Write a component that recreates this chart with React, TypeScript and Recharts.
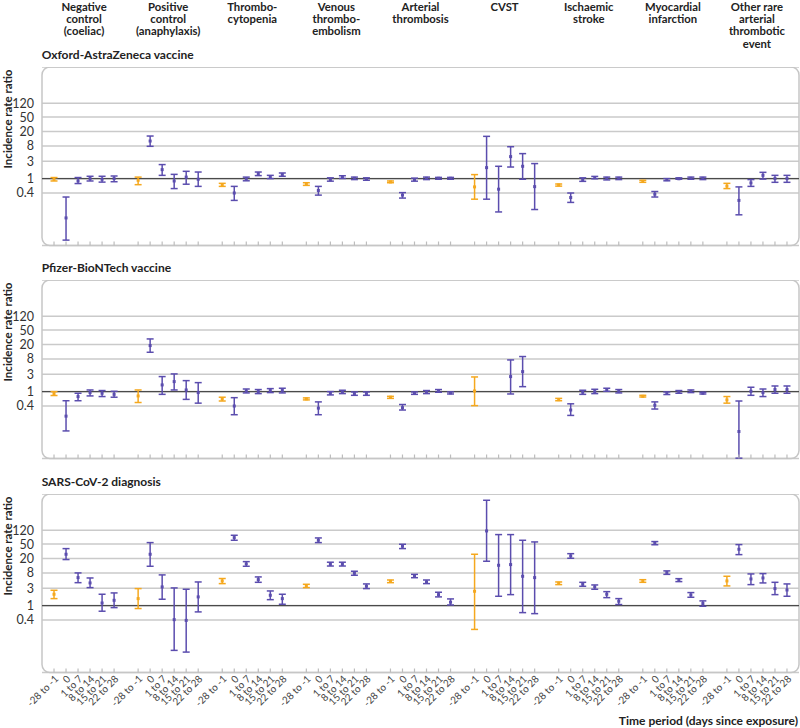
import React from 'react';
import {
  ComposedChart,
  Scatter,
  ErrorBar,
  XAxis,
  YAxis,
  CartesianGrid,
  ReferenceLine,
  ReferenceArea,
} from 'recharts';

// column headers, one entry per outcome (lines as printed)
const outcomes = [
  ['Negative', 'control', '(coeliac)'],
  ['Positive', 'control', '(anaphylaxis)'],
  ['Thrombo-', 'cytopenia'],
  ['Venous', 'thrombo-', 'embolism'],
  ['Arterial', 'thrombosis'],
  ['CVST'],
  ['Ischaemic', 'stroke'],
  ['Myocardial', 'infarction'],
  ['Other rare', 'arterial', 'thrombotic', 'event'],
];

const periods = ['-28 to -1', '0', '1 to 7', '8 to 14', '15 to 21', '22 to 28'];
const yTicks = [0.4, 1, 3, 8, 20, 50, 120];
const panelTitles = ['Oxford-AstraZeneca vaccine', 'Pfizer-BioNTech vaccine', 'SARS-CoV-2 diagnosis'];

// Oxford-AstraZeneca: estimate / lower / upper, rows = outcomes, cols = periods
const azEst = [
  [0.96, 0.082, 0.86, 1.0, 0.96, 1.0],
  [0.9, 10.9, 1.77, 0.86, 1.1, 0.96],
  [0.68, 0.4, 1.0, 1.37, 1.1, 1.29],
  [0.71, 0.47, 0.94, 1.1, 1.02, 0.97],
  [0.81, 0.35, 0.94, 1.02, 1.02, 1.02],
  [0.59, 2.01, 0.51, 4.05, 2.19, 0.6],
  [0.67, 0.3, 0.94, 1.07, 1.02, 1.02],
  [0.84, 0.37, 0.94, 0.99, 1.02, 1.02],
  [0.62, 0.25, 0.76, 1.23, 1.0, 1.0],
];
const azLo = [
  [0.86, 0.02, 0.73, 0.86, 0.8, 0.82],
  [0.68, 7.8, 1.23, 0.53, 0.7, 0.61],
  [0.61, 0.25, 0.87, 1.21, 1.0, 1.16],
  [0.65, 0.35, 0.85, 1.01, 0.94, 0.9],
  [0.77, 0.29, 0.85, 0.94, 0.96, 0.96],
  [0.27, 0.27, 0.12, 2.09, 0.96, 0.14],
  [0.62, 0.22, 0.84, 0.99, 0.92, 0.94],
  [0.79, 0.31, 0.87, 0.96, 0.96, 0.94],
  [0.53, 0.1, 0.61, 0.97, 0.79, 0.79],
];
const azHi = [
  [1.07, 0.31, 1.07, 1.16, 1.16, 1.18],
  [1.1, 15, 2.44, 1.31, 1.59, 1.52],
  [0.74, 0.61, 1.1, 1.52, 1.23, 1.43],
  [0.77, 0.61, 1.05, 1.2, 1.1, 1.05],
  [0.86, 0.41, 1.03, 1.1, 1.08, 1.08],
  [1.29, 14.7, 2.19, 7.6, 4.9, 2.6],
  [0.71, 0.4, 1.05, 1.15, 1.1, 1.1],
  [0.9, 0.44, 1.0, 1.05, 1.1, 1.1],
  [0.74, 0.59, 0.94, 1.49, 1.23, 1.23],
];

// Pfizer-BioNTech
const pfEst = [
  [0.88, 0.21, 0.73, 0.94, 0.9, 0.84],
  [0.76, 18.7, 1.53, 1.89, 1.11, 0.94],
  [0.63, 0.4, 1.04, 1.0, 1.07, 1.07],
  [0.63, 0.35, 0.9, 0.98, 0.88, 0.88],
  [0.7, 0.36, 0.9, 0.96, 1.04, 0.92],
  [1.04, null, null, 2.6, 3.57, null],
  [0.6, 0.31, 0.96, 1.0, 1.11, 1.02],
  [0.74, 0.42, 0.9, 0.98, 1.02, 0.9],
  [0.59, 0.079, 1.02, 0.94, 1.14, 1.14],
];
const pfLo = [
  [0.78, 0.082, 0.56, 0.76, 0.73, 0.7],
  [0.5, 12.2, 0.84, 1.11, 0.61, 0.48],
  [0.55, 0.23, 0.92, 0.88, 0.94, 0.92],
  [0.59, 0.23, 0.81, 0.88, 0.79, 0.79],
  [0.65, 0.31, 0.84, 0.88, 0.96, 0.86],
  [0.41, null, null, 0.86, 1.37, null],
  [0.56, 0.22, 0.84, 0.88, 1.02, 0.92],
  [0.71, 0.33, 0.83, 0.9, 0.94, 0.86],
  [0.48, 0.0145, 0.79, 0.73, 0.9, 0.9],
];
const pfHi = [
  [1.0, 0.56, 0.9, 1.11, 1.07, 1.02],
  [1.11, 28.5, 2.6, 3.08, 2.01, 1.77],
  [0.7, 0.68, 1.18, 1.14, 1.21, 1.24],
  [0.67, 0.52, 1.0, 1.09, 0.98, 0.98],
  [0.74, 0.44, 0.98, 1.07, 1.14, 0.98],
  [2.54, null, null, 7.5, 9.3, null],
  [0.65, 0.46, 1.09, 1.16, 1.24, 1.14],
  [0.79, 0.52, 0.98, 1.07, 1.11, 0.96],
  [0.73, 0.55, 1.32, 1.18, 1.43, 1.43],
];

// SARS-CoV-2 diagnosis
const covEst = [
  [2.06, 26.2, 5.94, 4.23, 1.18, 1.4],
  [1.56, 26.2, 3.28, 0.41, 0.39, 1.74],
  [4.8, 75.5, 14.2, 5.23, 1.93, 1.56],
  [3.5, 63.8, 13.8, 13.8, 7.8, 3.42],
  [4.7, 43.6, 6.6, 4.5, 2.01, 1.24],
  [2.49, 115.5, 13.0, 13.6, 6.46, 5.94],
  [4.14, 23.6, 3.88, 3.28, 2.06, 1.32],
  [4.8, 53.8, 8.16, 5.0, 1.97, 1.14],
  [4.8, 36, 5.45, 5.8, 2.95, 2.7],
];
const covLo = [
  [1.56, 18.7, 4.3, 3.14, 0.7, 0.88],
  [0.83, 12.2, 1.5, 0.058, 0.052, 0.67],
  [4.05, 63.8, 12.2, 4.4, 1.46, 1.09],
  [3.14, 55, 12.4, 12.4, 6.9, 2.95],
  [4.3, 37.6, 5.9, 4.05, 1.74, 1.04],
  [0.22, 16.8, 1.81, 2.01, 0.64, 0.6],
  [3.8, 20.3, 3.42, 2.83, 1.66, 1.07],
  [4.4, 48, 7.3, 4.6, 1.7, 0.96],
  [3.5, 25.6, 3.8, 4.23, 2.01, 1.81],
];
const covHi = [
  [2.65, 37.5, 8.0, 5.8, 2.06, 2.24],
  [2.95, 55, 7.05, 3.08, 2.83, 4.5],
  [5.6, 87.7, 16.4, 6.2, 2.54, 2.06],
  [3.88, 74, 15.8, 15.8, 8.9, 3.97],
  [5.1, 49.5, 7.3, 5.1, 2.34, 1.53],
  [26.2, 812, 91.5, 91.5, 63.8, 57.4],
  [4.5, 27.2, 4.4, 3.72, 2.43, 1.56],
  [5.2, 58.7, 9.1, 5.55, 2.29, 1.35],
  [6.46, 48.4, 7.5, 7.65, 4.4, 3.97],
];

const ORANGE = '#F5A81E';
const PURPLE = '#5B4DAE';
const FONT = 'Lato, "Open Sans", sans-serif';

const SLOTS = 7; // 6 periods + 1 empty slot between outcomes
const X_TICKS = outcomes.flatMap((_, g) => periods.map((__, i) => g * SLOTS + i));
const Y_DOMAIN: [number, number] = [0.0142, 1210];

const PLOT_H = 178.5;
const PANEL_TOPS = [66.7, 280.2, 493.7];

type Row = { x: number; y: number; err: [number, number] };

function buildRows(est: any[][], lo: any[][], hi: any[][], baseline: boolean): Row[] {
  const rows: Row[] = [];
  est.forEach((grp, g) =>
    grp.forEach((v, i) => {
      if (v == null) return;
      if ((i === 0) !== baseline) return;
      rows.push({ x: g * SLOTS + i, y: v, err: [v - lo[g][i], hi[g][i] - v] });
    })
  );
  return rows;
}

const PeriodTick = (props: any) => {
  const { x, y, payload, showLabel } = props;
  const label = periods[payload.value % SLOTS];
  return (
    <g>
      <line x1={x} x2={x} y1={y} y2={y - 4} stroke="#bdbdbd" strokeWidth={1.2} />
      {showLabel && (
        <text
          x={x}
          y={y + 2}
          dy="0.71em"
          textAnchor="end"
          transform={`rotate(-45, ${x}, ${y + 2})`}
          fontSize={10}
          fontFamily={FONT}
          fill="#444"
        >
          {label}
        </text>
      )}
    </g>
  );
};

const Dot = (color: string) => (p: any) => (
  <rect x={p.cx - 1.5} y={p.cy - 1.5} width={3} height={3} fill={color} />
);

const Panel = ({ rowsBase, rowsExp, showLabels }: { rowsBase: Row[]; rowsExp: Row[]; showLabels: boolean }) => {
  const axisH = showLabels ? 60 : 6;
  return (
    <ComposedChart width={800} height={PLOT_H + axisH} margin={{ top: 0, right: 1, bottom: 0, left: 0 }}>
      <CartesianGrid horizontal vertical={false} stroke="#cacaca" strokeWidth={1.5} />
      <ReferenceArea
        x1={-1}
        x2={62}
        y1={Y_DOMAIN[0]}
        y2={Y_DOMAIN[1]}
        fill="none"
        stroke="#c6c6c6"
        strokeWidth={1.5}
        radius={8}
        ifOverflow="visible"
      />
      <XAxis
        dataKey="x"
        type="number"
        domain={[-1, 62]}
        ticks={X_TICKS}
        interval={0}
        allowDataOverflow
        axisLine={false}
        tickLine={false}
        tickSize={0}
        tickMargin={0}
        height={axisH}
        tick={<PeriodTick showLabel={showLabels} />}
      />
      <YAxis
        dataKey="y"
        type="number"
        scale="log"
        domain={Y_DOMAIN}
        allowDataOverflow
        ticks={yTicks}
        interval={0}
        width={42}
        axisLine={false}
        tickLine={false}
        tick={{ fontSize: 12.5, fill: '#333', fontFamily: FONT }}
        tickFormatter={(v: number) => String(v)}
      />
      <ReferenceLine y={1} stroke="#4a4a4a" strokeWidth={1.4} />
      <Scatter data={rowsBase} fill={ORANGE} shape={Dot(ORANGE)} isAnimationActive={false}>
        <ErrorBar dataKey="err" direction="y" width={3.5} stroke={ORANGE} strokeWidth={1.5} isAnimationActive={false} />
      </Scatter>
      <Scatter data={rowsExp} fill={PURPLE} shape={Dot(PURPLE)} isAnimationActive={false}>
        <ErrorBar dataKey="err" direction="y" width={3.5} stroke={PURPLE} strokeWidth={1.5} isAnimationActive={false} />
      </Scatter>
    </ComposedChart>
  );
};

const panels = [
  { est: azEst, lo: azLo, hi: azHi },
  { est: pfEst, lo: pfLo, hi: pfHi },
  { est: covEst, lo: covLo, hi: covHi },
];

const boldText: React.CSSProperties = {
  position: 'absolute',
  fontFamily: FONT,
  fontWeight: 700,
  fontSize: 12,
  color: '#222',
  whiteSpace: 'nowrap',
};

export default function App() {
  const slotW = 757 / 63;
  return (
    <div style={{ position: 'absolute', left: 0, top: 0, width: 800, height: 728, background: '#fff', overflow: 'hidden' }}>
      {outcomes.map((lines, g) => {
        const cx = 42 + (g * SLOTS + 3.5) * slotW;
        return (
          <div
            key={g}
            style={{ ...boldText, fontSize: 11.3, left: cx - 60, width: 120, top: 0.5, textAlign: 'center', lineHeight: '12.4px' }}
          >
            {lines.map((l, i) => (
              <div key={i}>{l}</div>
            ))}
          </div>
        );
      })}
      {panels.map((p, k) => {
        const top = PANEL_TOPS[k];
        const y1 = top + 111.6;
        return (
          <React.Fragment key={k}>
            <div style={{ ...boldText, left: 41.7, top: top - 19, lineHeight: '14px' }}>{panelTitles[k]}</div>
            <div
              style={{
                ...boldText,
                fontSize: 11.5,
                left: 7.5 - 70,
                width: 140,
                top: y1 - 59.5 - 7,
                lineHeight: '14px',
                textAlign: 'center',
                transform: 'rotate(-90deg)',
              }}
            >
              Incidence rate ratio
            </div>
            <div style={{ position: 'absolute', left: 0, top }}>
              <Panel
                rowsBase={buildRows(p.est, p.lo, p.hi, true)}
                rowsExp={buildRows(p.est, p.lo, p.hi, false)}
                showLabels={k === 2}
              />
            </div>
          </React.Fragment>
        );
      })}
      <div style={{ ...boldText, right: 2, top: 714, lineHeight: '14px' }}>Time period (days since exposure)</div>
    </div>
  );
}
